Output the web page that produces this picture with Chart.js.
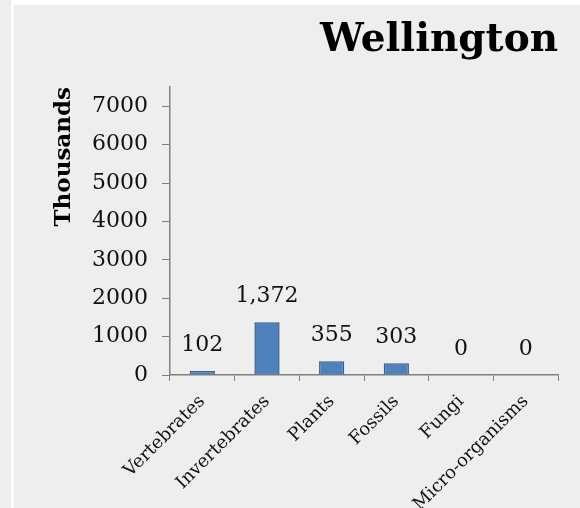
<!DOCTYPE html>
<html>
<head>
<meta charset="utf-8">
<script src="https://cdn.jsdelivr.net/npm/chart.js@4/dist/chart.umd.min.js"></script>
<style>
  html, body { margin: 0; padding: 0; background: #eeeeee; overflow: hidden; }
  #wrap { position: relative; width: 580px; height: 508px; background: #eeeeee; }
  #stripeV { position: absolute; left: 11px; top: 0; width: 3px; height: 508px; background: #ffffff; }
  #stripeH { position: absolute; left: 11px; top: 0; width: 569px; height: 5px; background: #ffffff; }
  canvas { position: absolute; left: 0; top: 0; }
</style>
</head>
<body>
<div id="wrap">
  <div id="stripeV"></div>
  <div id="stripeH"></div>
  <canvas id="c" width="580" height="508"></canvas>
</div>
<script>
const chartTitle = "Wellington";
const yAxisTitle = "Thousands";
const categories = ["Vertebrates", "Invertebrates", "Plants", "Fossils", "Fungi", "Micro-organisms"];
const values = [102, 1372, 355, 303, 0, 0];
const yTickValues = [0, 1000, 2000, 3000, 4000, 5000, 6000, 7000];

const SERIF = "'DejaVu Serif', serif";

const valueLabels = {
  id: 'valueLabels',
  afterDatasetsDraw(chart) {
    const ctx = chart.ctx;
    const meta = chart.getDatasetMeta(0);
    ctx.save();
    ctx.font = "22px " + SERIF;
    ctx.fillStyle = "#111";
    ctx.textAlign = "center";
    ctx.textBaseline = "middle";
    meta.data.forEach((bar, i) => {
      const v = values[i];
      ctx.fillText(v.toLocaleString('en-US'), bar.x, bar.y - 26);
    });
    ctx.restore();
  }
};

new Chart(document.getElementById('c'), {
  type: 'bar',
  data: {
    labels: categories,
    datasets: [{
      data: values,
      backgroundColor: '#4f81bd',
      borderColor: '#385d8a',
      borderWidth: 1.5,
      categoryPercentage: 1.0,
      barPercentage: 0.39
    }]
  },
  options: {
    responsive: false,
    animation: false,
    layout: { padding: { left: 0, right: 22, top: 0, bottom: 0 } },
    plugins: {
      legend: { display: false },
      tooltip: { enabled: false },
      title: {
        display: true,
        text: chartTitle,
        align: 'end',
        color: '#000',
        font: { family: SERIF, size: 39, weight: 'bold', lineHeight: 1.2 },
        padding: { top: 17, bottom: 23.2 }
      }
    },
    scales: {
      x: {
        offset: true,
        grid: { offset: true, drawOnChartArea: false, drawTicks: true, tickLength: 6, color: '#7f7f7f' },
        border: { color: '#7f7f7f', width: 1.5 },
        ticks: {
          color: '#111',
          font: { family: SERIF, size: 18 },
          minRotation: 45,
          maxRotation: 45,
          padding: 10,
          autoSkip: false
        },
        afterFit(scale) { scale.height = 133; }
      },
      y: {
        min: 0,
        max: 7500,
        grid: { drawOnChartArea: false, drawTicks: true, tickLength: 8, color: '#7f7f7f' },
        border: { color: '#7f7f7f', width: 1.5 },
        ticks: {
          stepSize: 1000,
          color: '#111',
          font: { family: SERIF, size: 22 },
          padding: 14,
          callback: (v) => String(v)
        },
        afterBuildTicks(scale) {
          scale.ticks = yTickValues.map(v => ({ value: v }));
        },
        title: {
          display: true,
          text: yAxisTitle,
          align: 'end',
          color: '#000',
          font: { family: SERIF, size: 23, weight: 'bold', lineHeight: 1.2 },
          padding: { top: 50, bottom: 0 }
        },
        afterFit(scale) { scale.width = 170; }
      }
    }
  },
  plugins: [valueLabels]
});
</script>
</body>
</html>
